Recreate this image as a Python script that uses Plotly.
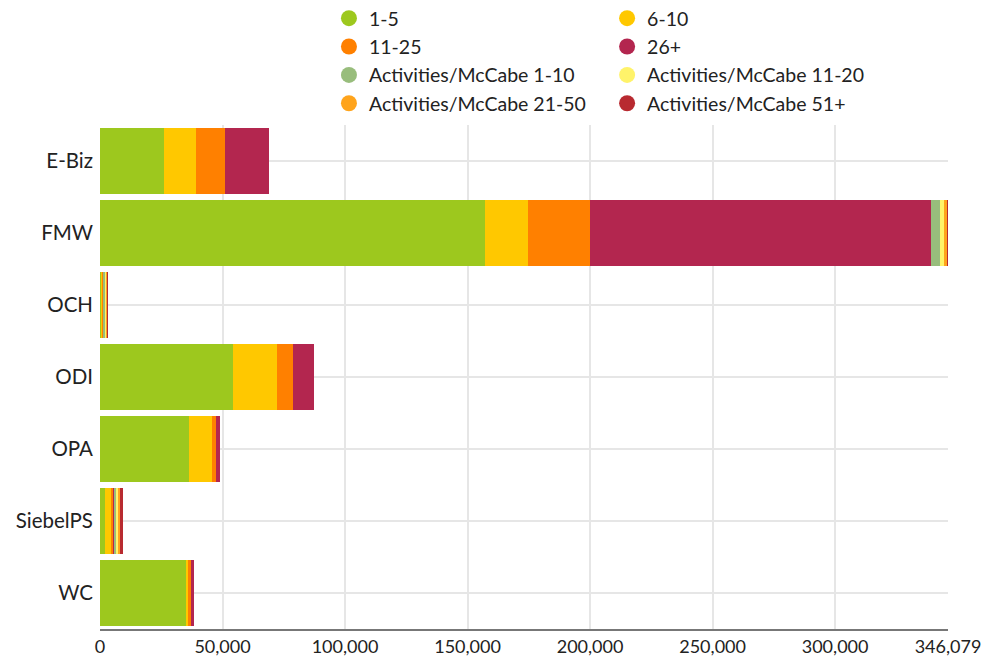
import plotly.graph_objects as go

products = ["E-Biz", "FMW", "OCH", "ODI", "OPA", "SiebelPS", "WC"]

series_names = [
    "1-5",
    "6-10",
    "11-25",
    "26+",
    "Activities/McCabe 1-10",
    "Activities/McCabe 11-20",
    "Activities/McCabe 21-50",
    "Activities/McCabe 51+",
]

colors = [
    "#9dc81e",
    "#ffc800",
    "#ff8000",
    "#b3264f",
    "#98bd7c",
    "#fff36a",
    "#ffa41c",
    "#b82a30",
]

cc_1_5 = [26100, 157300, 700, 54300, 36300, 2200, 35500]
cc_6_10 = [13100, 17200, 450, 18000, 9400, 2200, 800]
cc_11_25 = [11800, 25400, 350, 6500, 1600, 1000, 700]
cc_26_plus = [18000, 139300, 100, 8700, 1600, 500, 1300]
act_1_10 = [0, 3600, 800, 0, 0, 800, 0]
act_11_20 = [0, 1600, 300, 0, 0, 700, 0]
act_21_50 = [0, 1400, 400, 0, 0, 800, 0]
act_51_plus = [0, 279, 100, 0, 0, 1200, 0]

all_values = [cc_1_5, cc_6_10, cc_11_25, cc_26_plus,
              act_1_10, act_11_20, act_21_50, act_51_plus]

x_max = 346079
tick_vals = [0, 50000, 100000, 150000, 200000, 250000, 300000, x_max]
tick_text = ["0", "50,000", "100,000", "150,000", "200,000", "250,000", "300,000", "346,079"]

fig = go.Figure()

for name, values, color in zip(series_names, all_values, colors):
    fig.add_trace(
        go.Bar(
            y=products,
            x=values,
            name=name,
            orientation="h",
            marker=dict(color=color, line=dict(width=0)),
            showlegend=False,
        )
    )

# legend entries with round markers, split over two columns
for i, (name, color) in enumerate(zip(series_names, colors)):
    fig.add_trace(
        go.Scatter(
            x=[None],
            y=[None],
            mode="markers",
            name=name,
            marker=dict(color=color, size=18, symbol="circle"),
            legend="legend" if i % 2 == 0 else "legend2",
        )
    )

legend_style = dict(
    orientation="v",
    xanchor="left",
    y=1.25,
    yanchor="top",
    traceorder="normal",
    itemsizing="trace",
    font=dict(size=19.5),
)

# page body has an 8px margin, so the figure is a bit smaller than the window
fig.update_layout(
    width=984,
    height=648,
    margin=dict(l=92, r=44, t=117, b=27, autoexpand=False),
    barmode="stack",
    bargap=0.08,
    plot_bgcolor="white",
    paper_bgcolor="white",
    font=dict(family="Lato, Noto Sans, sans-serif", size=20.5, color="#222222"),
    legend=dict(x=0.27, **legend_style),
    legend2=dict(x=0.598, **legend_style),
    xaxis=dict(
        range=[0, x_max],
        tickvals=tick_vals,
        ticktext=tick_text,
        tickfont=dict(size=18),
        showgrid=True,
        gridcolor="#e6e6e6",
        gridwidth=2,
        showline=True,
        linecolor="#777777",
        linewidth=2,
        zeroline=False,
        ticks="",
        automargin=False,
        fixedrange=True,
    ),
    yaxis=dict(
        categoryorder="array",
        categoryarray=products,
        autorange="reversed",
        showgrid=True,
        gridcolor="#e6e6e6",
        gridwidth=2,
        ticks="",
        automargin=False,
        ticklabelstandoff=6,
    ),
)

fig.write_html("out.html")
